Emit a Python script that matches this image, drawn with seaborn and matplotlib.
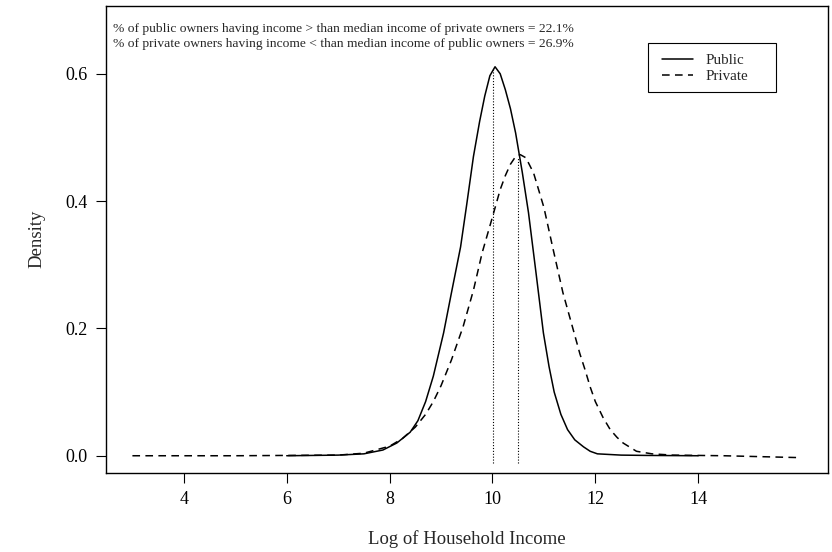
import numpy as np
import pandas as pd
import matplotlib
matplotlib.use("Agg")
import matplotlib.pyplot as plt
from matplotlib.patches import Rectangle
import seaborn as sns

# densities
public_x = [6.0, 6.5, 7.0, 7.5, 7.87, 8.14, 8.4, 8.55, 8.7, 8.85, 9.05, 9.2, 9.38, 9.5, 9.63,
            9.75, 9.85, 9.95, 10.05, 10.15, 10.25, 10.35, 10.45, 10.58, 10.7, 10.85, 10.99,
            11.1, 11.2, 11.33, 11.46, 11.6, 11.77, 11.9, 12.04, 12.5, 13.0, 14.0]
public_density = [0.0, 0.0005, 0.001, 0.003, 0.009, 0.02, 0.037, 0.055, 0.085, 0.125, 0.193, 0.255, 0.328, 0.395, 0.47,
                  0.525, 0.565, 0.597, 0.611, 0.600, 0.575, 0.545, 0.507, 0.445, 0.382, 0.285, 0.193,
                  0.14, 0.10, 0.065, 0.041, 0.025, 0.014, 0.007, 0.003, 0.001, 0.0005, 0.0]

private_x = [3.0, 5.0, 6.0, 7.0, 7.5, 8.0, 8.25, 8.5, 8.7, 8.85, 9.0, 9.2, 9.43, 9.63, 9.8, 10.0,
             10.15, 10.25, 10.35, 10.45, 10.54, 10.65, 10.8, 11.0, 11.18, 11.37, 11.57, 11.7, 11.8,
             11.9, 12.0, 12.15, 12.29, 12.42, 12.54, 12.8, 13.1, 13.5, 14.5, 16.0]
private_density = [0.0, 0.0, 0.0005, 0.001, 0.004, 0.015, 0.027, 0.045, 0.065, 0.085, 0.11, 0.15, 0.203, 0.26, 0.319, 0.375,
                   0.418, 0.44, 0.458, 0.47, 0.473, 0.468, 0.444, 0.39, 0.324, 0.256, 0.198, 0.16, 0.135,
                   0.108, 0.085, 0.06, 0.041, 0.029, 0.02, 0.007, 0.003, 0.001, 0.0, -0.003]

medians = [10.02, 10.50]
median_heights = [0.607, 0.468]

x_ticks = [4, 6, 8, 10, 12, 14]
y_ticks = [0.0, 0.2, 0.4, 0.6]

note_lines = ["% of public owners having income > than median income of private owners = 22.1%",
              "% of private owners having income < than median income of public owners = 26.9%"]

sns.set_style("ticks")
plt.rcParams["font.family"] = ["Liberation Serif", "DejaVu Serif"]

fig = plt.figure(figsize=(8.32, 5.52), dpi=100)
ax = fig.add_axes([0.127, 0.143, 0.868, 0.847])

sns.lineplot(x=public_x, y=public_density, ax=ax, color="black", linewidth=1.1, label="Public")
sns.lineplot(x=private_x, y=private_density, ax=ax, color="black", linewidth=1.1,
             linestyle=(0, (5, 3.5)), label="Private")

# median lines
ax.vlines(medians, -0.012, median_heights, colors="black", linestyles=(0, (1, 1.6)), linewidth=0.8)

ax.set_xlim(2.48, 16.52)
ax.set_ylim(-0.0272, 0.7072)
ax.set_xticks(x_ticks)
ax.set_yticks(y_ticks)
ax.set_yticklabels(["%.1f" % v for v in y_ticks])
ax.tick_params(direction="out", length=7, width=0.8, labelsize=13, colors="black", pad=6)
for s in ax.spines.values():
    s.set_visible(True)
    s.set_color("black")
    s.set_linewidth(1.0)

ax.set_xlabel("Log of Household Income", fontsize=13.5, labelpad=16)
ax.set_ylabel("Density", fontsize=13.5, labelpad=14)

ax.text(0.01, 0.950, note_lines[0], transform=ax.transAxes, fontsize=9.7, va="center", ha="left")
ax.text(0.01, 0.917, note_lines[1], transform=ax.transAxes, fontsize=9.7, va="center", ha="left")

# R-style legend: box drawn separately, entries placed inside it
ax.add_patch(Rectangle((0.751, 0.815), 0.177, 0.105, transform=ax.transAxes,
                       fill=True, facecolor="white", edgecolor="black", linewidth=0.8, zorder=4))
leg = ax.legend(loc="upper left", bbox_to_anchor=(0.770, 0.897), fontsize=10.8, frameon=False,
                handlelength=2.1, handletextpad=0.8, borderpad=0, labelspacing=0.15,
                borderaxespad=0)
leg.set_zorder(5)

fig.savefig("out.png", dpi=100)
